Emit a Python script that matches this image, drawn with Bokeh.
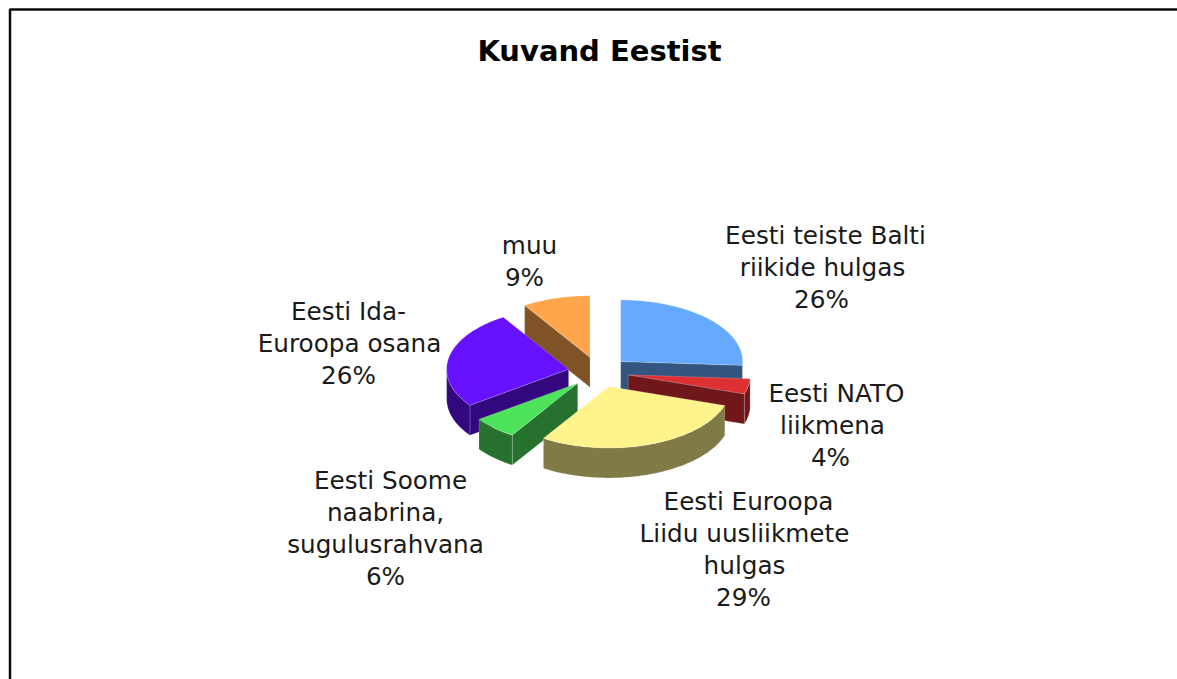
import math
from bokeh.plotting import figure
from bokeh.models import Range1d
from bokeh.core.properties import value
from bokeh.embed import file_html
from bokeh.resources import INLINE

title = "Kuvand Eestist"
categories = ["Eesti teiste Balti riikide hulgas", "Eesti NATO liikmena",
              "Eesti Euroopa Liidu uusliikmete hulgas",
              "Eesti Soome naabrina, sugulusrahvana",
              "Eesti Ida-Euroopa osana", "muu"]
shares = [26, 4, 29, 6, 26, 9]
top_colors = ["#66AAFF", "#DD3033", "#FFF48C", "#4DE35A", "#6611FF", "#FFA64D"]
side_colors = ["#33557F", "#6F1719", "#7F7A46", "#26712D", "#33087F", "#7F5326"]
label_lines = [
    ["Eesti teiste Balti", "riikide hulgas", "26%"],
    ["Eesti NATO", "liikmena", "4%"],
    ["Eesti Euroopa", "Liidu uusliikmete", "hulgas", "29%"],
    ["Eesti Soome", "naabrina,", "sugulusrahvana", "6%"],
    ["Eesti Ida-", "Euroopa osana", "26%"],
    ["muu", "9%"],
]
label_x = [
    [825, 822, 821],
    [836, 832, 830],
    [748, 744, 744, 743],
    [390, 385, 385, 385],
    [348, 349, 348],
    [529, 524],
]
label_top = [235, 393, 501, 480, 311, 245]
line_step = 32
draw_order = [5, 0, 4, 1, 3, 2]

CX, CY, RX, RY, DEPTH, EXPLODE = 598, 371.5, 122, 61.5, 30, 30.4

p = figure(width=1177, height=679, x_range=Range1d(0, 1177), y_range=Range1d(679, 0),
           output_backend="svg", toolbar_location=None, min_border=0)
p.axis.visible = False
p.grid.visible = False
p.outline_line_color = None
p.background_fill_color = "white"

p.line([9.5, 9.5, 1177], [679, 9, 9], line_color="#0a0a0a", line_width=2.5)

total = sum(shares)
bounds = [0.0]
for s in shares:
    bounds.append(bounds[-1] + s / total * 2 * math.pi)


def rim(ax, ay, a):
    return ax + RX * math.sin(a), ay - RY * math.cos(a)


def arc(ax, ay, a0, a1):
    n = max(2, int(abs(a1 - a0) / 0.02))
    return [rim(ax, ay, a0 + (a1 - a0) * i / n) for i in range(n + 1)]


def patch(pts, color):
    p.patch([q[0] for q in pts], [q[1] for q in pts], fill_color=color,
            line_color="#ffffff", line_alpha=0.25, line_width=0.7, line_join="round")


for i in draw_order:
    a0, a1 = bounds[i], bounds[i + 1]
    mid = (a0 + a1) / 2
    ax = CX + EXPLODE * math.sin(mid)
    ay = CY - EXPLODE * RY / RX * math.cos(mid)
    # radial walls that face the viewer
    if math.sin(a0) < 0:
        e = rim(ax, ay, a0)
        patch([(ax, ay), e, (e[0], e[1] + DEPTH), (ax, ay + DEPTH)], side_colors[i])
    if math.sin(a1) > 0:
        e = rim(ax, ay, a1)
        patch([(ax, ay), e, (e[0], e[1] + DEPTH), (ax, ay + DEPTH)], side_colors[i])
    # outer wall, front half only
    w0, w1 = max(a0, math.pi / 2), min(a1, 3 * math.pi / 2)
    if w1 > w0:
        rim_pts = arc(ax, ay, w0, w1)
        patch(rim_pts + [(q[0], q[1] + DEPTH) for q in reversed(rim_pts)], side_colors[i])
    # top face
    patch([(ax, ay)] + arc(ax, ay, a0, a1), top_colors[i])

xs, ys, ts = [], [], []
for lines, lxs, ly in zip(label_lines, label_x, label_top):
    for k, (t, lx) in enumerate(zip(lines, lxs)):
        xs.append(lx)
        ys.append(ly + k * line_step)
        ts.append(t)
p.text(xs, ys, text=ts, text_font=value("DejaVu Sans"), text_font_size="24.7px",
       text_color="#1a1a1a", text_align="center", text_baseline="middle")
p.text([599], [50], text=[title], text_font=value("DejaVu Sans"), text_font_size="29px",
       text_font_style="bold", text_color="#000000", text_align="center", text_baseline="middle")

open("out.html", "w").write(file_html(p, INLINE))
